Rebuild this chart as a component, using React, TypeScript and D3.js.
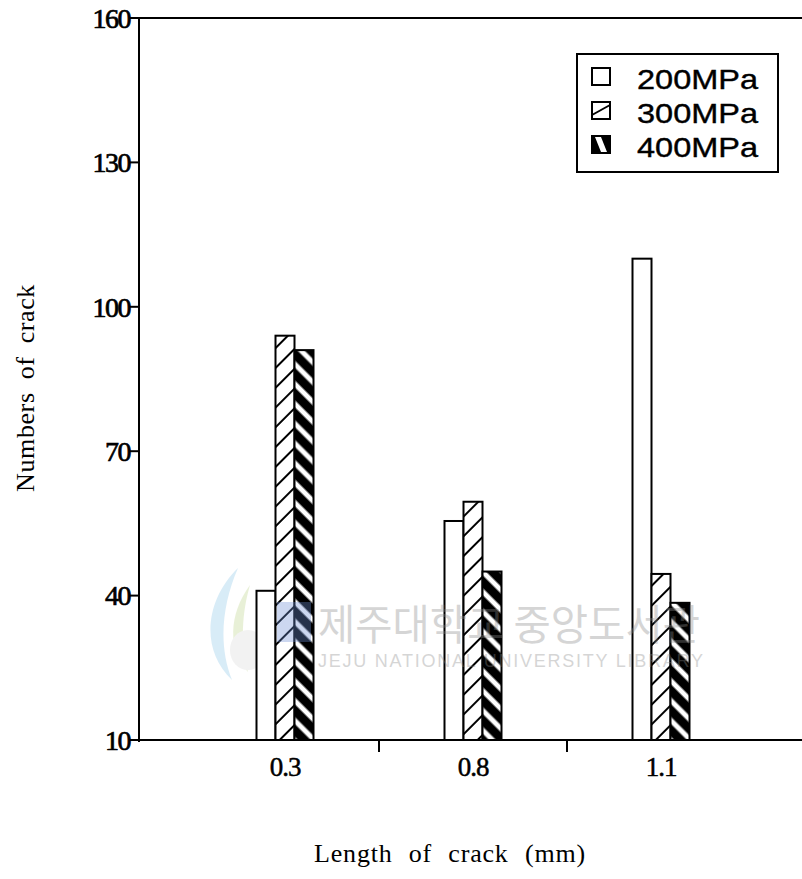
import React from "react";
import * as d3 from "d3";

const categories = ["0.3", "0.8", "1.1"];
const seriesNames = ["200MPa", "300MPa", "400MPa"];
const values200 = [41, 55.5, 110];
const values300 = [94, 59.5, 44.5];
const values400 = [91, 45, 38.5];
const yTicks = [10, 40, 70, 100, 130, 160];

const W = 802;
const H = 879;
const AX = 139;
const serif = "'Liberation Serif', 'DejaVu Serif', serif";
const sans = "'Liberation Sans', Arial, sans-serif";

export default function App() {
  const y = d3.scaleLinear().domain([10, 160]).range([740, 18]);
  const x = d3.scaleBand<string>().domain(categories).range([191, 755]).padding(0);
  const inner = d3.scaleBand<string>().domain(seriesNames).range([0, 57]).padding(0);
  const seriesValues = [values200, values300, values400];
  const fills = ["#ffffff", "url(#hatch300)", "url(#hatch400)"];
  const boundaries = categories.slice(1).map((c) => x(c) as number);

  return (
    <svg width={W} height={H} style={{ position: "absolute", left: 0, top: 0, background: "#fff" }}>
      <defs>
        <pattern id="hatch300" patternUnits="userSpaceOnUse" width={14} height={14} patternTransform="rotate(45)">
          <rect width={14} height={14} fill="#fff" />
          <line x1={7} y1={0} x2={7} y2={14} stroke="#000" strokeWidth={2} />
        </pattern>
        <pattern id="hatch400" patternUnits="userSpaceOnUse" width={14} height={14} patternTransform="rotate(-45)">
          <rect width={14} height={14} fill="#000" />
          <line x1={7} y1={0} x2={7} y2={14} stroke="#fff" strokeWidth={5} />
        </pattern>
      </defs>

      {/* library watermark (behind) */}
      <g opacity={0.4} pointerEvents="none">
        <path d="M238,568 C205,600 200,650 232,680 C218,645 222,605 238,568 Z" fill="#9fd0ec" />
        <path d="M250,585 C228,615 228,650 248,672 C240,645 242,612 250,585 Z" fill="#c8dc9c" />
        <ellipse cx={248} cy={650} rx={18} ry={20} fill="#e0e0e0" />
      </g>

      {/* frame lines */}
      <line x1={AX} y1={18} x2={W} y2={18} stroke="#000" strokeWidth={2} />
      <line x1={AX} y1={18} x2={AX} y2={742} stroke="#000" strokeWidth={2} />

      {/* bars */}
      {categories.map((c, ci) =>
        seriesNames.map((s, si) => {
          const v = seriesValues[si][ci];
          const bx = (x(c) as number) + x.bandwidth() / 2 - 28.5 + (inner(s) as number);
          return (
            <rect
              key={c + s}
              x={bx}
              y={y(v)}
              width={inner.bandwidth()}
              height={y(10) - y(v)}
              fill={fills[si]}
              stroke="#000"
              strokeWidth={2}
            />
          );
        })
      )}

      {/* x axis */}
      <line x1={AX} y1={740} x2={W} y2={740} stroke="#000" strokeWidth={2} />
      {boundaries.map((b) => (
        <line key={b} x1={b} y1={740} x2={b} y2={752} stroke="#000" strokeWidth={2} />
      ))}
      {categories.map((c) => (
        <text
          key={c}
          x={(x(c) as number) + x.bandwidth() / 2}
          y={776}
          textAnchor="middle"
          fontFamily={serif}
          fontSize={27}
          letterSpacing={-1}
          fill="#000"
          stroke="#000"
          strokeWidth={0.5}
        >
          {c}
        </text>
      ))}

      {/* y axis ticks */}
      {yTicks.map((t) => (
        <g key={t}>
          <line x1={AX - 10} y1={y(t)} x2={AX} y2={y(t)} stroke="#000" strokeWidth={2} />
          <text
            x={AX - 9}
            y={y(t)}
            dy="0.35em"
            textAnchor="end"
            fontFamily={serif}
            fontSize={28}
            letterSpacing={-1.5}
            fill="#000"
            stroke="#000"
            strokeWidth={0.7}
          >
            {t}
          </text>
        </g>
      ))}

      {/* axis titles */}
      <text
        x={450}
        y={862}
        textAnchor="middle"
        fontFamily={serif}
        fontSize={26}
        letterSpacing={0.8}
        wordSpacing={9}
        fill="#000"
      >
        Length of crack (mm)
      </text>
      <text
        transform="translate(34,388) rotate(-90)"
        textAnchor="middle"
        fontFamily={serif}
        fontSize={26}
        letterSpacing={0.6}
        wordSpacing={6}
        fill="#000"
      >
        Numbers of crack
      </text>

      {/* legend */}
      <rect x={577} y={54} width={201} height={118} fill="#fff" stroke="#000" strokeWidth={2} />
      {seriesNames.map((s, i) => {
        const sy = 68 + i * 34;
        const sx = 592;
        return (
          <g key={s}>
            {i === 0 && <rect x={sx} y={sy} width={18} height={17} fill="#fff" stroke="#000" strokeWidth={2} />}
            {i === 1 && (
              <g>
                <rect x={sx} y={sy} width={18} height={17} fill="#fff" stroke="#000" strokeWidth={2} />
                <line x1={sx} y1={sy + 13} x2={sx + 18} y2={sy + 3} stroke="#000" strokeWidth={2} />
              </g>
            )}
            {i === 2 && (
              <g>
                <rect x={sx} y={sy} width={18} height={17} fill="#000" stroke="#000" strokeWidth={2} />
                <polygon
                  points={`${sx + 3},${sy + 1} ${sx + 9},${sy + 1} ${sx + 15},${sy + 16} ${sx + 9},${sy + 16}`}
                  fill="#fff"
                />
              </g>
            )}
            <text
              x={637}
              y={sy + 21}
              fontFamily={sans}
              fontSize={28}
              textLength={121}
              lengthAdjust="spacingAndGlyphs"
              fill="#000"
              stroke="#000"
              strokeWidth={0.4}
            >
              {s}
            </text>
          </g>
        );
      })}

      {/* library watermark (over) */}
      <g opacity={0.35} pointerEvents="none">
        <rect x={277} y={602} width={34} height={40} fill="#6e8fd6" />
        <text
          x={318}
          y={640}
          fontFamily="'Noto Sans CJK KR', sans-serif"
          fontSize={42}
          textLength={382}
          lengthAdjust="spacingAndGlyphs"
          fill="#8a8a8a"
        >
          제주대학교 중앙도서관
        </text>
        <text
          x={318}
          y={667}
          fontFamily={sans}
          fontSize={18}
          textLength={385}
          lengthAdjust="spacing"
          fill="#8a8a8a"
        >
          JEJU NATIONAL UNIVERSITY LIBRARY
        </text>
      </g>
    </svg>
  );
}
